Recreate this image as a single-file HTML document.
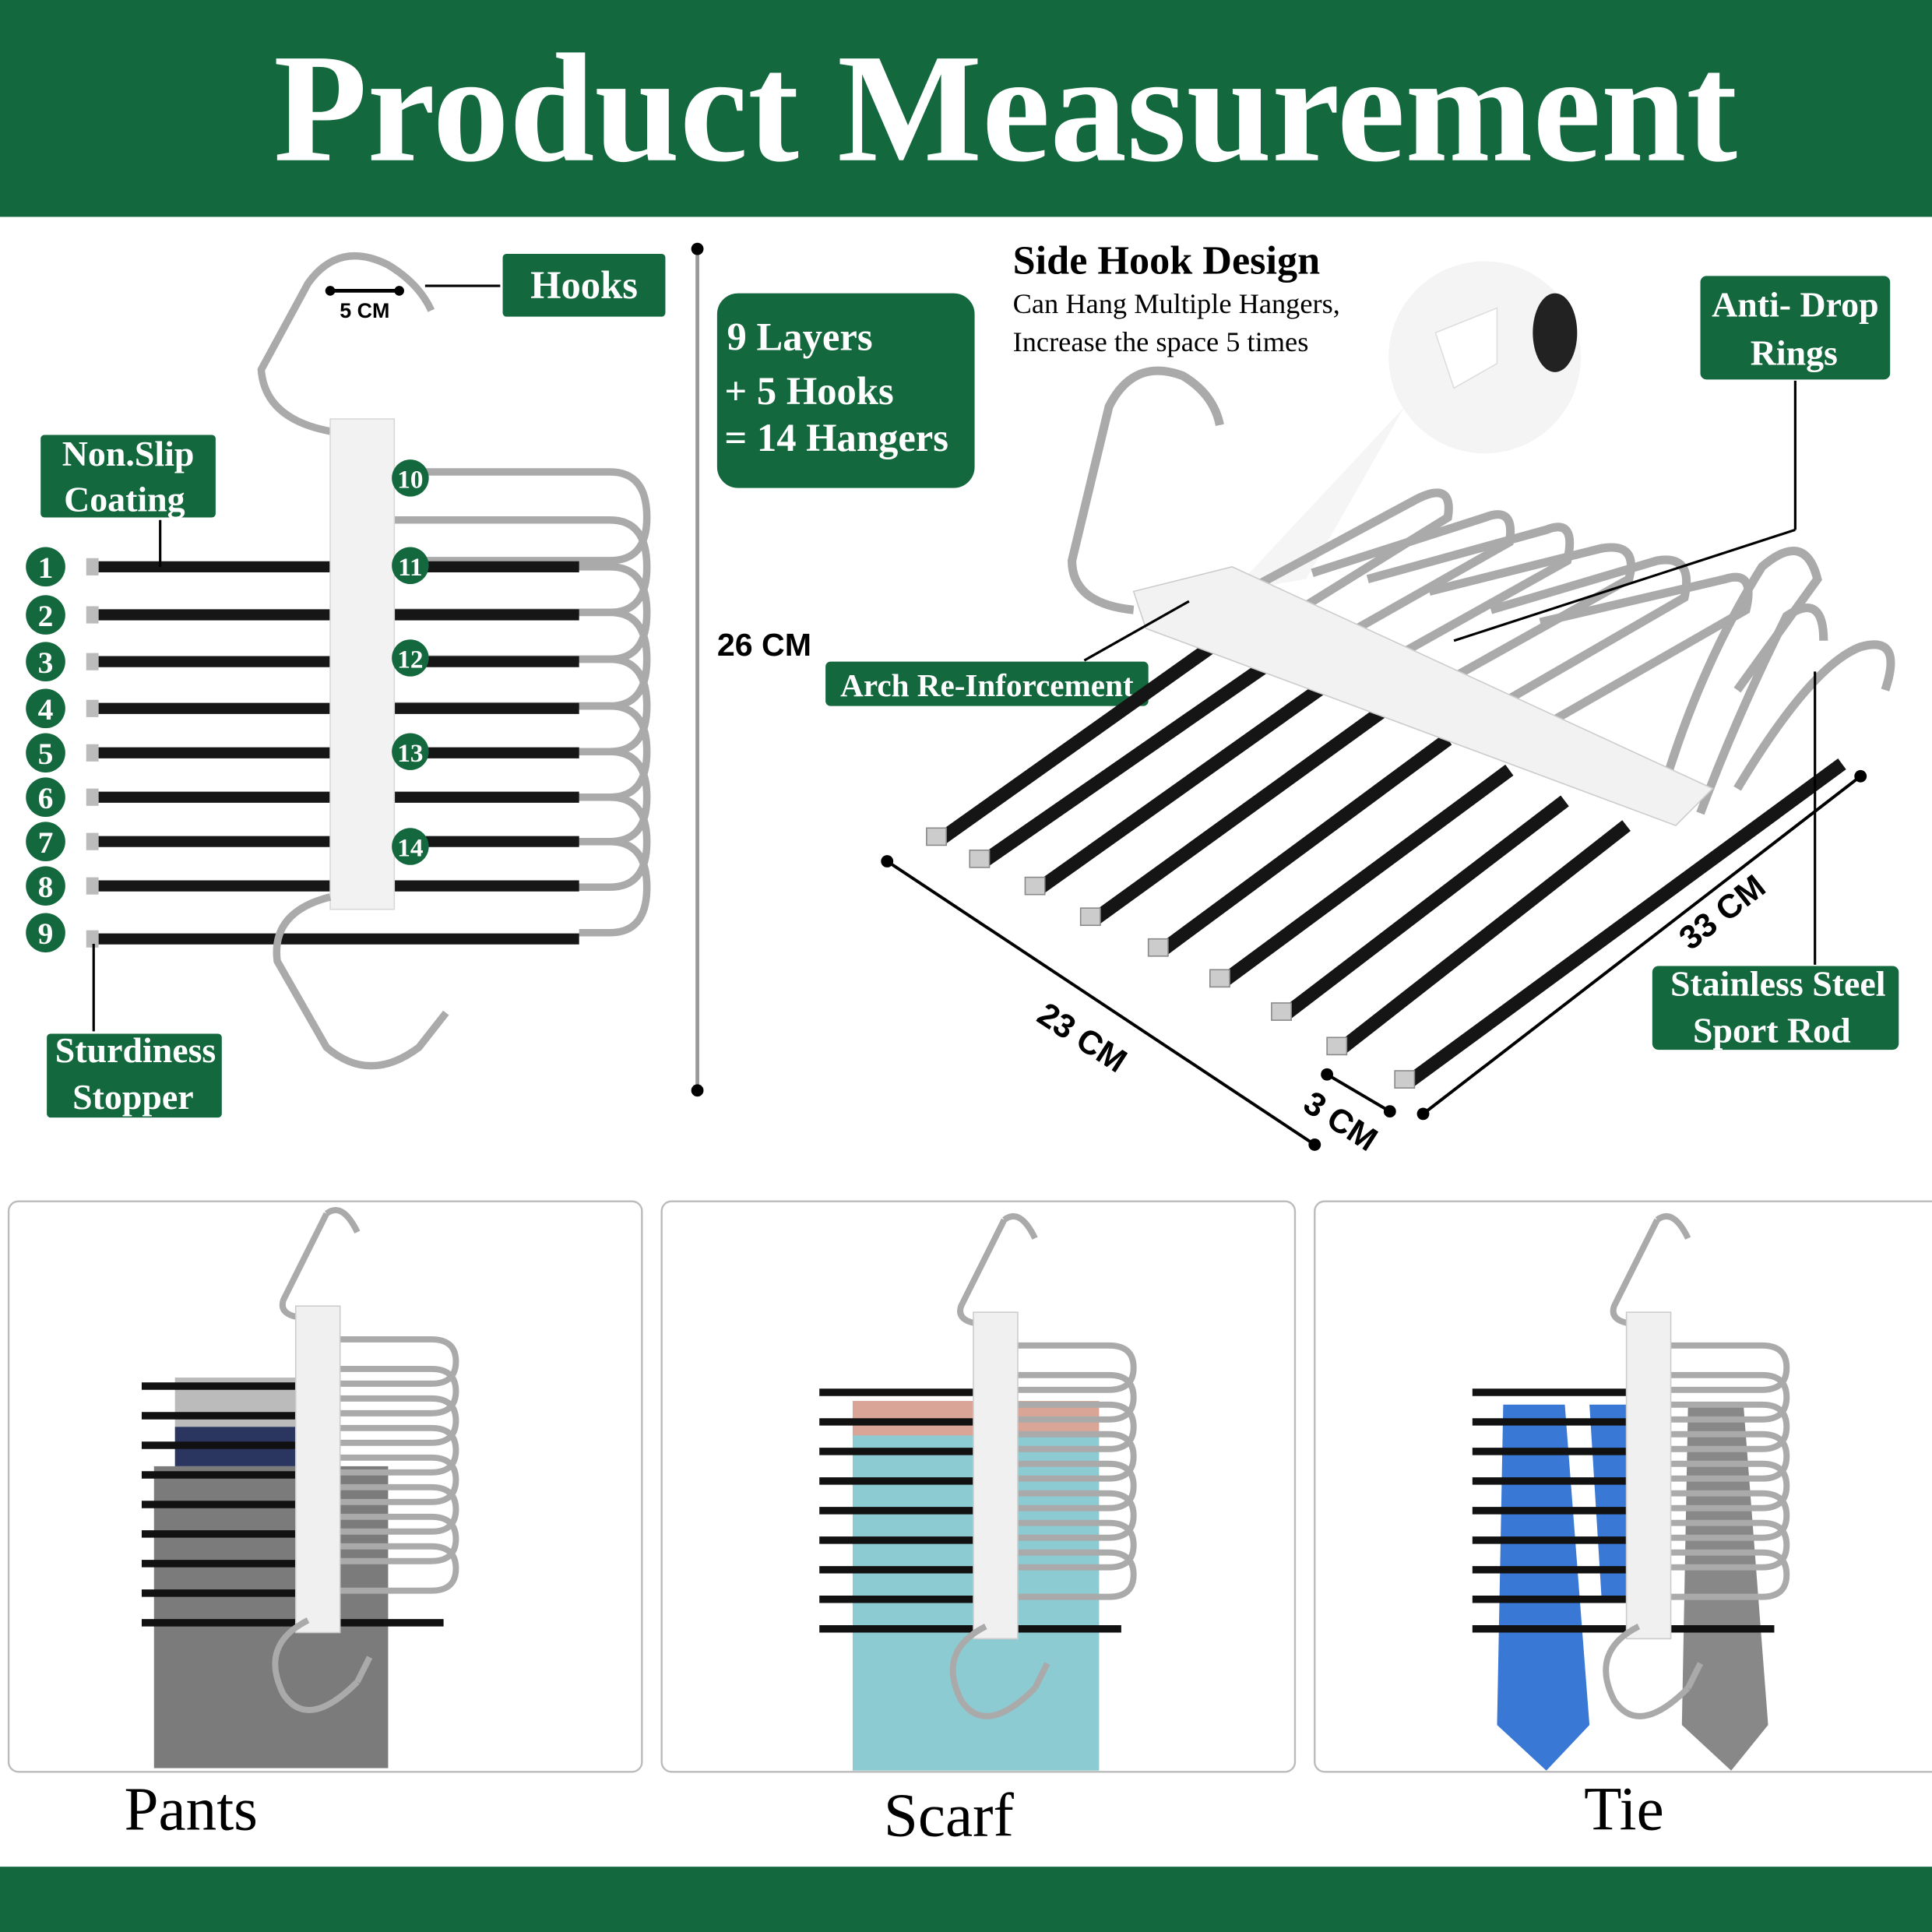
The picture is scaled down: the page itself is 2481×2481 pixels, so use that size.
<!DOCTYPE html>
<html><head><meta charset="utf-8"><style>
html,body{margin:0;padding:0;background:#fff}
svg{display:block}
.s{font-family:"Liberation Serif",serif}
.a{font-family:"Liberation Sans",sans-serif;font-weight:bold}
</style></head><body>
<svg width="2481" height="2481" viewBox="0 0 1568 1568" xmlns="http://www.w3.org/2000/svg">
<defs>
<g id="hang">
 <path d="M55,10 L20,80 Q15,95 45,95 M55,10 Q68,0 80,25" stroke="#aaa" stroke-width="5" fill="none"/>
 <g stroke="#aaa" stroke-width="5" fill="none">
  <path d="M60,112 H140 Q160,112 160,130 Q160,148 140,148 H60"/>
  <path d="M60,136 H140 Q160,136 160,154 Q160,172 140,172 H60"/>
  <path d="M60,160 H140 Q160,160 160,178 Q160,196 140,196 H60"/>
  <path d="M60,184 H140 Q160,184 160,202 Q160,220 140,220 H60"/>
  <path d="M60,208 H140 Q160,208 160,226 Q160,244 140,244 H60"/>
  <path d="M60,232 H140 Q160,232 160,250 Q160,268 140,268 H60"/>
  <path d="M60,256 H140 Q160,256 160,274 Q160,292 140,292 H60"/>
  <path d="M60,280 H140 Q160,280 160,298 Q160,316 140,316 H60"/>
 </g>
 <g stroke="#111" stroke-width="6">
  <line x1="-95" y1="150" x2="60" y2="150"/><line x1="-95" y1="174" x2="60" y2="174"/><line x1="-95" y1="198" x2="60" y2="198"/><line x1="-95" y1="222" x2="60" y2="222"/><line x1="-95" y1="246" x2="60" y2="246"/><line x1="-95" y1="270" x2="60" y2="270"/><line x1="-95" y1="294" x2="60" y2="294"/><line x1="-95" y1="318" x2="60" y2="318"/><line x1="-95" y1="342" x2="150" y2="342"/>
 </g>
 <rect x="30" y="85" width="36" height="265" fill="#f0f0f0" stroke="#ccc"/>
 <path d="M40,340 Q0,360 20,400 Q40,430 80,390 M80,390 L90,370" stroke="#aaa" stroke-width="5" fill="none"/>
</g>
</defs>
<rect x="0" y="0" width="1568" height="176" fill="#14683d"/>
<text x="816" y="130" text-anchor="middle" class="s" font-size="126" font-weight="bold" fill="#fff" textLength="1188" lengthAdjust="spacingAndGlyphs">Product Measurement</text>
<rect x="0" y="1515" width="1568" height="53" fill="#14683d"/>

<!-- Left hanger -->
<path d="M268,350 Q215,340 212,300 L250,230 Q275,195 315,215 Q340,230 350,252" stroke="#aaa" stroke-width="6" fill="none"/>
<line x1="266" y1="236" x2="324" y2="236" stroke="#000" stroke-width="3"/><circle cx="268" cy="236" r="4"/><circle cx="324" cy="236" r="4"/>
<text x="296" y="258" text-anchor="middle" class="a" font-size="17">5 CM</text>
<line x1="345" y1="232" x2="407" y2="232" stroke="#000" stroke-width="2"/>
<g stroke="#aaa" stroke-width="6" fill="none">
<path d="M320,383 H495 Q525,383 525,420 Q525,455 495,455 H320"/>
<path d="M320,422 H495 Q525,422 525,460 Q525,497 495,497 H320"/>
<path d="M320,460 H495 Q525,460 525,497 Q525,535 495,535 H320"/>
<path d="M320,497 H495 Q525,497 525,535 Q525,573 495,573 H320"/>
<path d="M320,535 H495 Q525,535 525,573 Q525,610 495,610 H320"/>
<path d="M320,573 H495 Q525,573 525,610 Q525,647 495,647 H320"/>
<path d="M320,610 H495 Q525,610 525,647 Q525,683 495,683 H320"/>
<path d="M320,647 H495 Q525,647 525,683 Q525,720 495,720 H320"/>
<path d="M320,683 H495 Q525,683 525,720 Q525,757 495,757 H470"/>
</g>
<g stroke="#161616" stroke-width="9">
<line x1="80" y1="460" x2="268" y2="460"/><line x1="80" y1="499" x2="268" y2="499"/><line x1="80" y1="537" x2="268" y2="537"/><line x1="80" y1="575" x2="268" y2="575"/><line x1="80" y1="611" x2="268" y2="611"/><line x1="80" y1="647" x2="268" y2="647"/><line x1="80" y1="683" x2="268" y2="683"/><line x1="80" y1="719" x2="268" y2="719"/><line x1="80" y1="762" x2="470" y2="762"/>
<line x1="320" y1="460" x2="470" y2="460"/><line x1="320" y1="499" x2="470" y2="499"/><line x1="320" y1="537" x2="470" y2="537"/><line x1="320" y1="575" x2="470" y2="575"/><line x1="320" y1="611" x2="470" y2="611"/><line x1="320" y1="647" x2="470" y2="647"/><line x1="320" y1="683" x2="470" y2="683"/><line x1="320" y1="719" x2="470" y2="719"/>
</g>
<g fill="#bbb"><rect x="70" y="453" width="10" height="14"/><rect x="70" y="492" width="10" height="14"/><rect x="70" y="530" width="10" height="14"/><rect x="70" y="568" width="10" height="14"/><rect x="70" y="604" width="10" height="14"/><rect x="70" y="640" width="10" height="14"/><rect x="70" y="676" width="10" height="14"/><rect x="70" y="712" width="10" height="14"/><rect x="70" y="755" width="10" height="14"/></g>
<rect x="268" y="340" width="52" height="398" fill="#f2f2f2" stroke="#d8d8d8"/>
<path d="M268,728 Q220,740 225,780 L265,850 Q300,880 340,850 L362,822" stroke="#aaa" stroke-width="6" fill="none"/>
<g fill="#14683d"><circle cx="37" cy="460" r="16"/><circle cx="37" cy="499" r="16"/><circle cx="37" cy="537" r="16"/><circle cx="37" cy="575" r="16"/><circle cx="37" cy="611" r="16"/><circle cx="37" cy="647" r="16"/><circle cx="37" cy="683" r="16"/><circle cx="37" cy="719" r="16"/><circle cx="37" cy="757" r="16"/>
<circle cx="333" cy="388" r="15"/><circle cx="333" cy="459" r="15"/><circle cx="333" cy="534" r="15"/><circle cx="333" cy="610" r="15"/><circle cx="333" cy="687" r="15"/></g>
<g class="s" font-size="25" font-weight="bold" fill="#fff" text-anchor="middle">
<text x="37" y="469">1</text><text x="37" y="508">2</text><text x="37" y="546">3</text><text x="37" y="584">4</text><text x="37" y="620">5</text><text x="37" y="656">6</text><text x="37" y="692">7</text><text x="37" y="728">8</text><text x="37" y="766">9</text>
<g font-size="21"><text x="333" y="396">10</text><text x="333" y="467">11</text><text x="333" y="542">12</text><text x="333" y="618">13</text><text x="333" y="695">14</text></g>
</g>
<line x1="130" y1="421" x2="130" y2="460" stroke="#000" stroke-width="2"/>
<line x1="76" y1="766" x2="76" y2="838" stroke="#000" stroke-width="2"/>

<!-- labels -->
<g fill="#14683d" stroke="#fff" stroke-width="2">
<rect x="407" y="205" width="134" height="53" rx="4"/>
<rect x="32" y="352" width="144" height="69" rx="4"/>
<rect x="37" y="838" width="144" height="70" rx="4"/>
<rect x="581" y="237" width="211" height="160" rx="18"/>
<rect x="669" y="536" width="264" height="38" rx="5"/>
<rect x="1379" y="223" width="156" height="86" rx="6"/>
<rect x="1340" y="783" width="202" height="70" rx="6"/>
</g>
<g class="s" fill="#fff" font-size="29" font-weight="bold" text-anchor="middle">
<text x="474" y="242" font-size="32">Hooks</text>
<text x="104" y="378">Non.Slip</text><text x="101" y="415">Coating</text>
<text x="110" y="862">Sturdiness</text><text x="108" y="900">Stopper</text>
<text x="801" y="565" font-size="26">Arch Re-Inforcement</text>
<text x="1457" y="257">Anti- Drop</text><text x="1456" y="296">Rings</text>
<text x="1443" y="808">Stainless Steel</text><text x="1438" y="846">Sport Rod</text>
</g>
<g class="s" fill="#fff" font-size="32" font-weight="bold" text-anchor="start">
<text x="590" y="284">9 Layers</text><text x="588" y="328">+ 5 Hooks</text><text x="588" y="366">= 14 Hangers</text>
</g>

<!-- 26 cm -->
<line x1="566" y1="202" x2="566" y2="885" stroke="#999" stroke-width="3"/>
<circle cx="566" cy="202" r="5"/><circle cx="566" cy="885" r="5"/>
<text x="582" y="532" class="a" font-size="26">26 CM</text>

<!-- Side hook text -->
<text x="822" y="222" class="s" font-size="33" font-weight="bold">Side Hook Design</text>
<text x="822" y="254" class="s" font-size="23">Can Hang Multiple Hangers,</text>
<text x="822" y="285" class="s" font-size="23">Increase the space 5 times</text>
<circle cx="1205" cy="290" r="78" fill="#f4f4f4"/>
<path d="M1165,270 L1215,250 L1215,295 L1180,315 Z" fill="#fff" stroke="#ddd"/>
<ellipse cx="1262" cy="270" rx="18" ry="32" fill="#222"/>
<path d="M1140,330 L1000,480 L1060,470 Z" fill="#eee" opacity=".6"/>

<!-- Right 3D hanger -->
<g stroke="#aaa" stroke-width="7" fill="none">
<path d="M920,495 Q870,490 870,455 L900,330 Q920,290 960,305 Q985,320 990,345"/>
<path d="M1020,475 L1150,405 Q1180,390 1175,420 L1030,510"/>
<path d="M1065,465 L1205,420 Q1230,410 1225,440 L1075,525"/>
<path d="M1110,470 L1255,430 Q1280,420 1272,455 L1120,540"/>
<path d="M1160,480 L1300,445 Q1330,440 1322,470 L1170,555"/>
<path d="M1210,495 L1345,455 Q1375,450 1367,485 L1220,570"/>
<path d="M1250,505 L1400,470 Q1425,462 1417,495 L1260,585"/>
<path d="M1350,640 Q1380,540 1430,460 Q1465,430 1475,470 L1410,560"/>
<path d="M1380,660 Q1410,580 1450,500 Q1480,480 1480,520"/>
<path d="M1410,640 Q1470,540 1510,525 Q1545,515 1530,560"/>
</g>
<g stroke="#151515" stroke-width="11" stroke-linecap="butt">
<line x1="765" y1="680" x2="990" y2="520"/>
<line x1="800" y1="698" x2="1035" y2="535"/>
<line x1="845" y1="720" x2="1080" y2="553"/>
<line x1="890" y1="745" x2="1125" y2="575"/>
<line x1="945" y1="770" x2="1175" y2="600"/>
<line x1="995" y1="795" x2="1225" y2="625"/>
<line x1="1045" y1="822" x2="1270" y2="650"/>
<line x1="1090" y1="850" x2="1320" y2="670"/>
<line x1="1145" y1="877" x2="1495" y2="620"/>
</g>
<g fill="#ccc" stroke="#888"><rect x="752" y="672" width="16" height="14"/><rect x="787" y="690" width="16" height="14"/><rect x="832" y="712" width="16" height="14"/><rect x="877" y="737" width="16" height="14"/><rect x="932" y="762" width="16" height="14"/><rect x="982" y="787" width="16" height="14"/><rect x="1032" y="814" width="16" height="14"/><rect x="1077" y="842" width="16" height="14"/><rect x="1132" y="869" width="16" height="14"/></g>
<path d="M920,480 L1000,460 L1390,640 L1360,670 L930,510 Z" fill="#f2f2f2" stroke="#ccc"/>
<line x1="880" y1="536" x2="965" y2="488" stroke="#000" stroke-width="2"/>
<line x1="1180" y1="520" x2="1457" y2="430" stroke="#000" stroke-width="2"/>
<line x1="1457" y1="430" x2="1457" y2="309" stroke="#000" stroke-width="2"/>
<line x1="1473" y1="545" x2="1473" y2="783" stroke="#000" stroke-width="2"/>
<line x1="720" y1="699" x2="1067" y2="929" stroke="#000" stroke-width="2.5"/>
<circle cx="720" cy="699" r="5"/><circle cx="1067" cy="929" r="5"/>
<line x1="1155" y1="904" x2="1510" y2="630" stroke="#000" stroke-width="2.5"/>
<circle cx="1155" cy="904" r="5"/><circle cx="1510" cy="630" r="5"/>
<line x1="1077" y1="872" x2="1128" y2="902" stroke="#000" stroke-width="2.5"/>
<circle cx="1077" cy="872" r="5"/><circle cx="1128" cy="902" r="5"/>
<text class="a" font-size="27" transform="translate(840,828) rotate(33)">23 CM</text>
<text class="a" font-size="27" transform="translate(1056,900) rotate(33)">3 CM</text>
<text class="a" font-size="27" transform="translate(1372,772) rotate(-38)">33 CM</text>

<!-- bottom panels -->
<g fill="#fff" stroke="#bbb" stroke-width="1.5">
<rect x="7" y="975" width="514" height="463" rx="8"/>
<rect x="537" y="975" width="514" height="463" rx="8"/>
<rect x="1067" y="975" width="510" height="463" rx="8"/>
</g>
<rect x="142" y="1118" width="100" height="40" fill="#bbb"/>
<rect x="142" y="1158" width="100" height="32" fill="#2a3560"/>
<rect x="125" y="1190" width="190" height="245" fill="#7b7b7b"/>
<use href="#hang" x="210" y="975"/>
<rect x="692" y="1137" width="200" height="30" fill="#d9a597"/>
<rect x="692" y="1165" width="200" height="272" fill="#8ccbd2"/>
<use href="#hang" x="760" y="980"/>
<path d="M1220,1140 L1270,1140 L1290,1400 L1255,1437 L1215,1400 Z" fill="#3a78d6"/>
<path d="M1290,1140 L1320,1140 L1330,1300 L1300,1300 Z" fill="#3a78d6"/>
<path d="M1370,1140 L1415,1140 L1435,1400 L1405,1437 L1365,1400 Z" fill="#888"/>
<use href="#hang" x="1290" y="980"/>
<g class="s" font-size="50" fill="#000" text-anchor="middle">
<text x="155" y="1485">Pants</text>
<text x="770" y="1490">Scarf</text>
<text x="1318" y="1485">Tie</text>
</g>
</svg>
</body></html>
